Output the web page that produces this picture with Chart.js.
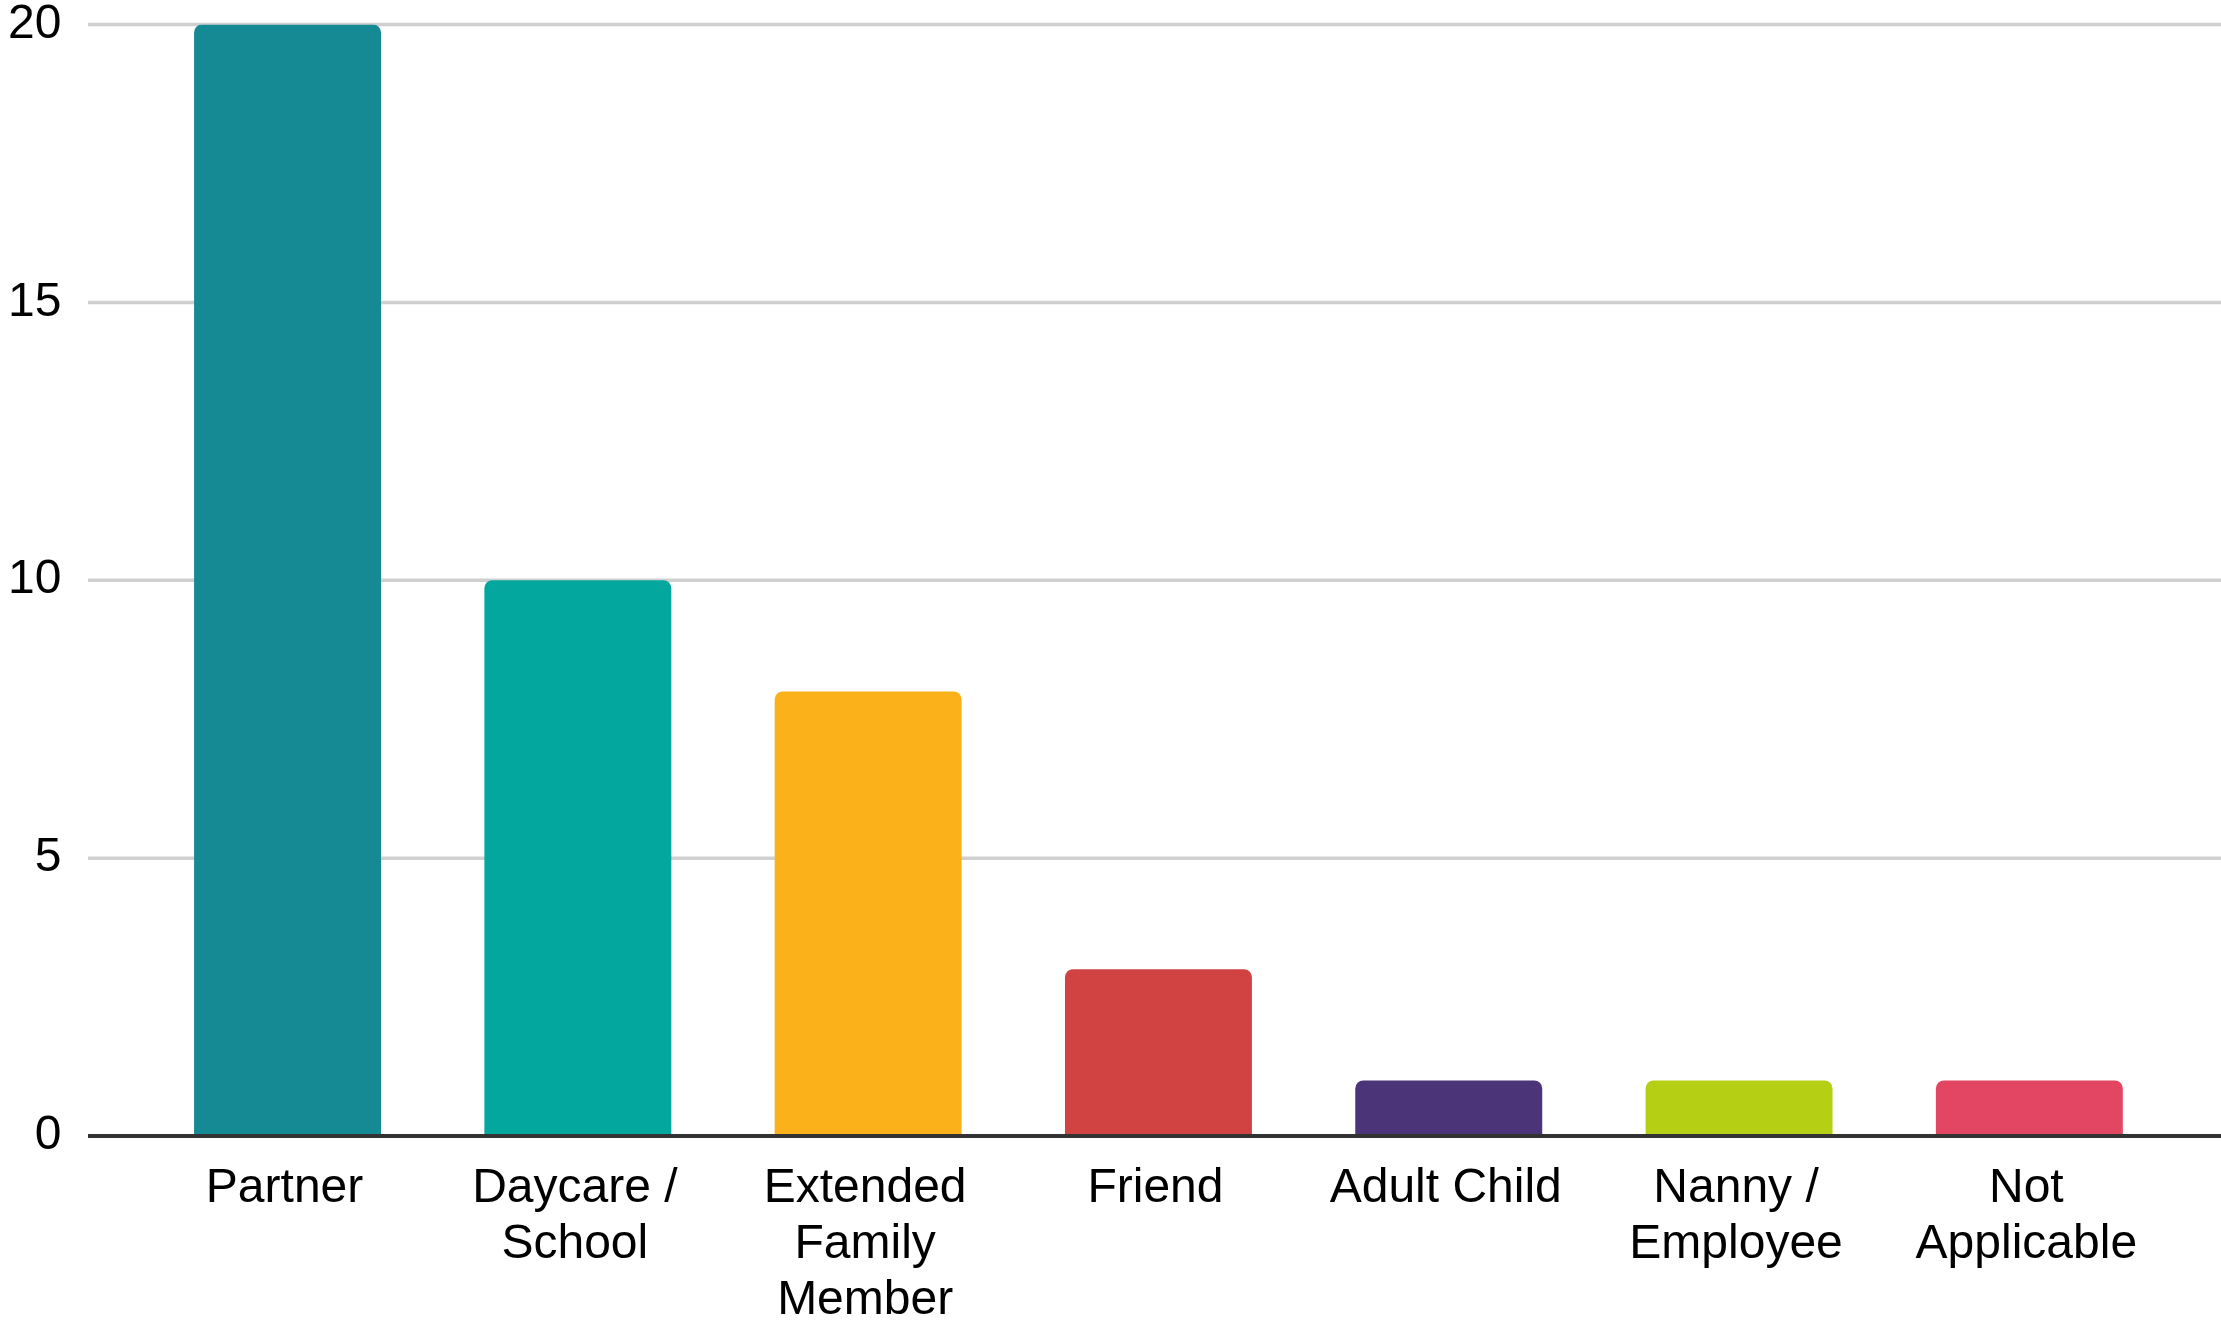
<!DOCTYPE html>
<html>
<head>
<meta charset="utf-8">
<script src="https://cdn.jsdelivr.net/npm/chart.js@4.4.1/dist/chart.umd.min.js"></script>
<style>
  html, body { margin: 0; padding: 0; background: #fff; }
  #wrap { width: 2221px; height: 1320px; }
</style>
</head>
<body>
<div id="wrap"><canvas id="careChart" width="2221" height="1320"></canvas></div>
<script>
const categories = [
    "Partner",
    ["Daycare /", "School"],
    ["Extended", "Family", "Member"],
    "Friend",
    "Adult Child",
    ["Nanny /", "Employee"],
    ["Not", "Applicable"]
];
const counts = [20, 10, 8, 3, 1, 1, 1];
const barColors = ["#168a94", "#03a79e", "#fbb11a", "#d14343", "#4c3479", "#b5cf15", "#e24663"];
const yTicks = [0, 5, 10, 15, 20];

// horizontal rules run from just right of the tick labels to the canvas edge
const gridLines = {
    id: "gridLines",
    beforeDatasetsDraw(chart) {
        const y = chart.scales.y;
        const ctx = chart.ctx;
        ctx.save();
        ctx.strokeStyle = "#d0d0d0";
        ctx.lineWidth = 3.5;
        yTicks.filter(v => v !== 0).forEach(v => {
            const py = y.getPixelForValue(v);
            ctx.beginPath();
            ctx.moveTo(88, py);
            ctx.lineTo(chart.width, py);
            ctx.stroke();
        });
        ctx.restore();
    },
    afterDatasetsDraw(chart) {
        const py = chart.scales.y.getPixelForValue(0);
        const ctx = chart.ctx;
        ctx.save();
        ctx.strokeStyle = "#333333";
        ctx.lineWidth = 4;
        ctx.beginPath();
        ctx.moveTo(88, py);
        ctx.lineTo(chart.width, py);
        ctx.stroke();
        ctx.restore();
    }
};

const ctx = document.getElementById("careChart").getContext("2d");
new Chart(ctx, {
    type: "bar",
    data: {
        labels: categories,
        datasets: [{
            data: counts,
            backgroundColor: barColors,
            borderWidth: 0,
            borderRadius: {topLeft: 8, topRight: 8, bottomLeft: 0, bottomRight: 0},
            borderSkipped: false,
            categoryPercentage: 1,
            barPercentage: 0.644
        }]
    },
    options: {
        responsive: false,
        animation: false,
        layout: {padding: {top: 24.5, right: 46.5, left: 0, bottom: 0}},
        plugins: {legend: {display: false}, tooltip: {enabled: false}},
        scales: {
            x: {
                grid: {display: false, drawTicks: false},
                border: {display: false},
                ticks: {
                    color: "#000",
                    padding: 25,
                    labelOffset: -3,
                    maxRotation: 0,
                    autoSkip: false,
                    font: {family: "'Liberation Sans', Arial, sans-serif", size: 48, lineHeight: 1.167}
                },
                afterFit(scale) {
                    scale.height = 184;
                    scale.paddingLeft = 0;
                    scale.paddingRight = 0;
                }
            },
            y: {
                min: 0,
                max: 20,
                afterBuildTicks(scale) {
                    scale.ticks = yTicks.map(v => ({value: v}));
                },
                grid: {display: false, drawTicks: false},
                border: {display: false},
                ticks: {
                    color: "#000",
                    padding: 81,
                    font: {family: "'Liberation Sans', Arial, sans-serif", size: 48}
                },
                afterFit(scale) {
                    scale.width = 142.4;
                    scale.paddingTop = 0;
                    scale.paddingBottom = 0;
                }
            }
        }
    },
    plugins: [gridLines]
});
</script>
</body>
</html>
